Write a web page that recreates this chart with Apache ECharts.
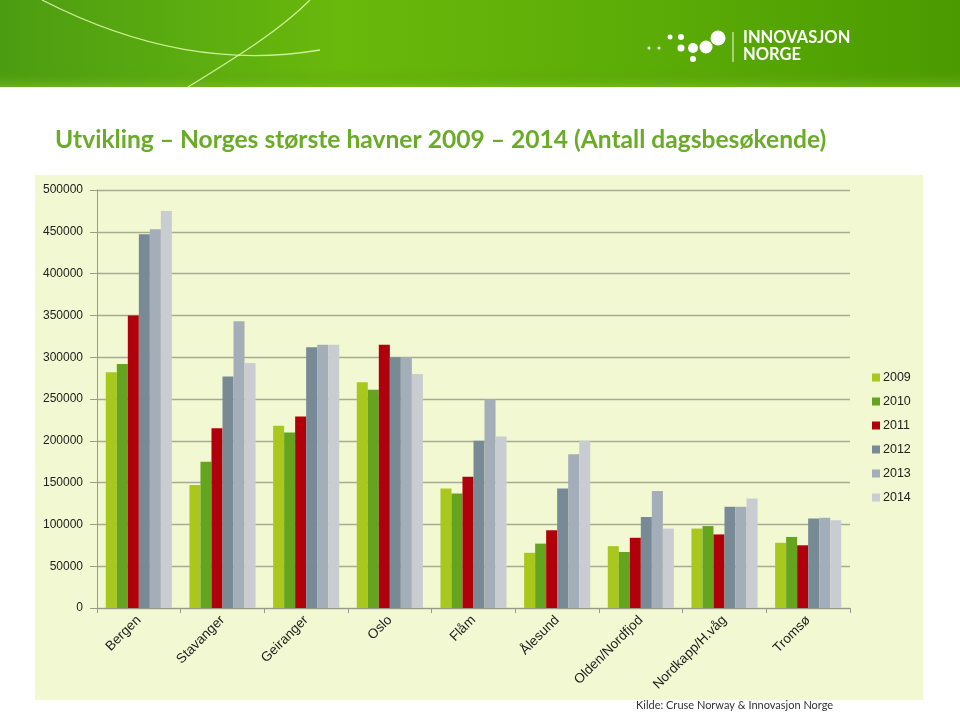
<!DOCTYPE html>
<html><head><meta charset="utf-8">
<script src="https://cdn.jsdelivr.net/npm/echarts@6/dist/echarts.min.js"></script>
<style>html,body{margin:0;padding:0;background:#fff}#c{width:960px;height:712px}</style>
</head><body><div id="c"></div>
<script>
const categories = ['Bergen','Stavanger','Geiranger','Oslo','Flåm','Ålesund','Olden/Nordfjod','Nordkapp/H.våg','Tromsø'];
const years = ['2009','2010','2011','2012','2013','2014'];
const v2009 = [282000,147000,218000,270000,143000,66000,74000,95000,78000];
const v2010 = [292000,175000,210000,261000,137000,77000,67000,98000,85000];
const v2011 = [350000,215000,229000,315000,157000,93000,84000,88000,75000];
const v2012 = [447000,277000,312000,300000,200000,143000,109000,121000,107000];
const v2013 = [453000,343000,315000,300000,250000,184000,140000,121000,108000];
const v2014 = [475000,293000,315000,280000,205000,200000,95000,131000,105000];
const seriesValues = [v2009,v2010,v2011,v2012,v2013,v2014];
const colors = ['#a9c71c','#65a41f','#b0000b','#778a96','#a4aeb9','#c9cdd2'];
const yTicks = {min:0,max:500000,interval:50000};
const titleText = 'Utvikling – Norges største havner 2009 – 2014 (Antall dagsbesøkende)';
const sourceText = 'Kilde: Cruse Norway & Innovasjon Norge';

const chart = echarts.init(document.getElementById('c'), null, {renderer:'canvas'});
const dots = [[649,48,1.5],[659,48,1.5],[670,37,2.5],[681,37,3],[681,48,3.5],[693,48,5],[706,47,6.5],[718,38,7.5],[693,59,3]];
const graphics = [
  {type:'rect', z:-10, shape:{x:0,y:0,width:960,height:87}, style:{fill:new echarts.graphic.LinearGradient(0,0,1,0,[
    {offset:0,color:'#4c9c12'},{offset:0.18,color:'#5aab10'},{offset:0.35,color:'#69b80c'},{offset:0.7,color:'#5aab06'},{offset:1,color:'#4b9a00'}])}},
  {type:'rect', z:-9, shape:{x:0,y:70,width:960,height:17}, style:{fill:new echarts.graphic.LinearGradient(0,0,0,1,[
    {offset:0,color:'rgba(80,150,0,0)'},{offset:1,color:'rgba(120,190,40,0.6)'}])}},
  {type:'bezierCurve', z:-8, shape:{x1:42,y1:0,x2:320,y2:50,cpx1:140,cpy1:50,cpx2:230,cpy2:65}, style:{stroke:'rgba(225,250,170,0.85)',lineWidth:1.3,fill:null}},
  {type:'bezierCurve', z:-8, shape:{x1:310,y1:0,x2:188,y2:87,cpx1:280,cpy1:30,cpx2:240,cpy2:55}, style:{stroke:'rgba(225,250,170,0.85)',lineWidth:1.3,fill:null}},
  {type:'line', shape:{x1:733,y1:32,x2:733,y2:62}, style:{stroke:'rgba(255,255,255,0.8)',lineWidth:1.2}},
  {type:'text', left:743, top:29, style:{text:'INNOVASJON', fill:'#fff', font:'bold 16.5px Lato'}},
  {type:'text', left:743, top:46, style:{text:'NORGE', fill:'#fff', font:'bold 16.5px Lato'}},
  {type:'rect', z:-10, shape:{x:35,y:175,width:888,height:525}, style:{fill:'#f2f8d2'}},
  {type:'text', left:55, top:128, style:{text:titleText, fill:'#6aab28', font:'bold 24.6px Lato'}},
  {type:'text', left:636, top:700, style:{text:sourceText, fill:'#333', font:'11px Lato'}}
];
dots.forEach(d=>graphics.push({type:'circle', shape:{cx:d[0],cy:d[1],r:d[2]}, style:{fill:'#fff'}}));

chart.setOption({
  animation:false,
  backgroundColor:'#fff',
  color:colors,
  graphic:graphics,
  grid:{left:97,right:110,top:190,bottom:104,containLabel:false},
  legend:{orient:'vertical', left:872, top:371, padding:0, itemWidth:8, itemHeight:8, itemGap:11, icon:'rect',
    textStyle:{fontFamily:'Liberation Sans', fontSize:12.5, color:'#222', padding:[0,0,0,-2]}, data:years},
  xAxis:{type:'category', data:categories, boundaryGap:true,
    axisLine:{lineStyle:{color:'#9a9a8a'}}, axisTick:{show:true,length:5,lineStyle:{color:'#9a9a8a'}},
    axisLabel:{rotate:45, margin:10, fontFamily:'Liberation Sans', fontSize:13.5, color:'#222', interval:0}},
  yAxis:{type:'value', min:yTicks.min, max:yTicks.max, interval:yTicks.interval,
    axisLine:{show:true,lineStyle:{color:'#9a9a8a'}}, axisTick:{show:true,length:7,lineStyle:{color:'#9a9a8a'}},
    splitLine:{lineStyle:{color:'#a6ab92',width:1.3}},
    axisLabel:{margin:14, fontFamily:'Liberation Sans', fontSize:12, color:'#222', formatter:v=>String(v)}},
  series:years.map((y,i)=>({name:y, type:'bar', data:seriesValues[i], barGap:'0%', barCategoryGap:'21%'}))
});
</script></body></html>
